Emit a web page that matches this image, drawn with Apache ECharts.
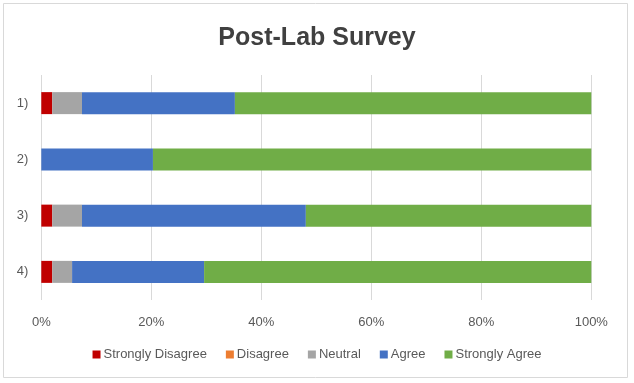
<!DOCTYPE html>
<html>
<head>
<meta charset="utf-8">
<script src="https://cdn.jsdelivr.net/npm/echarts@6/dist/echarts.min.js"></script>
<style>
  html, body { margin: 0; padding: 0; background: #fff; }
  #chart { width: 634px; height: 383px; }
</style>
</head>
<body>
<div id="chart"></div>
<script>
// questions, top to bottom
const questions = ["1)", "2)", "3)", "4)"];
// percent of responses per answer
const stronglyDisagree = [2.0, 0, 2.0, 2.0];
const disagree = [0, 0, 0, 0];
const neutral = [5.4, 0, 5.4, 3.6];
const agree = [27.8, 20.3, 40.7, 24.0];
const stronglyAgree = [64.8, 79.7, 51.9, 70.4];
const xTicks = [0, 20, 40, 60, 80, 100];

const chart = echarts.init(document.getElementById("chart"), null, { renderer: "canvas" });

const FONT = "'Liberation Sans', Arial, sans-serif";

// one stacked bar series per answer
const mk = (name, data, color) => ({
  name,
  type: "bar",
  stack: "total",
  barWidth: 22,
  color,
  itemStyle: { color },
  data,
});

chart.setOption({
  animation: false,
  title: {
    text: "Post-Lab Survey",
    left: "center",
    top: 21,
    textStyle: { fontFamily: FONT, fontSize: 25, fontWeight: "bold", color: "#404040" },
  },
  // thin chart border like the spreadsheet frame
  graphic: [{
    type: "rect",
    shape: { x: 3.5, y: 3.5, width: 624, height: 374 },
    style: { fill: "none", stroke: "#d9d9d9", lineWidth: 1 },
    silent: true,
  }],
  legend: {
    bottom: 17,
    left: "center",
    itemWidth: 8,
    itemHeight: 8,
    itemGap: 19,
    icon: "rect",
    textStyle: { fontFamily: FONT, fontSize: 13, color: "#595959", padding: [0, 0, 0, -2] },
    data: ["Strongly Disagree", "Disagree", "Neutral", "Agree", "Strongly Agree"],
  },
  grid: { left: 41.3, right: 42.7, top: 75, bottom: 83, containLabel: false },
  xAxis: {
    type: "value",
    min: xTicks[0],
    max: xTicks[xTicks.length - 1],
    interval: xTicks[1] - xTicks[0],
    axisLine: { show: false },
    axisTick: { show: false },
    axisLabel: {
      formatter: "{value}%",
      margin: 16,
      fontFamily: FONT,
      fontSize: 13,
      color: "#595959",
    },
    splitLine: { lineStyle: { color: "#d9d9d9", width: 1 } },
  },
  yAxis: {
    type: "category",
    inverse: true,
    data: questions,
    axisLine: { show: false },
    axisTick: { show: false },
    axisLabel: { margin: 13, fontFamily: FONT, fontSize: 13, color: "#595959" },
  },
  series: [
    mk("Strongly Disagree", stronglyDisagree, "#c00000"),
    mk("Disagree", disagree, "#ed7d31"),
    mk("Neutral", neutral, "#a5a5a5"),
    mk("Agree", agree, "#4472c4"),
    mk("Strongly Agree", stronglyAgree, "#70ad47"),
  ],
});
</script>
</body>
</html>
